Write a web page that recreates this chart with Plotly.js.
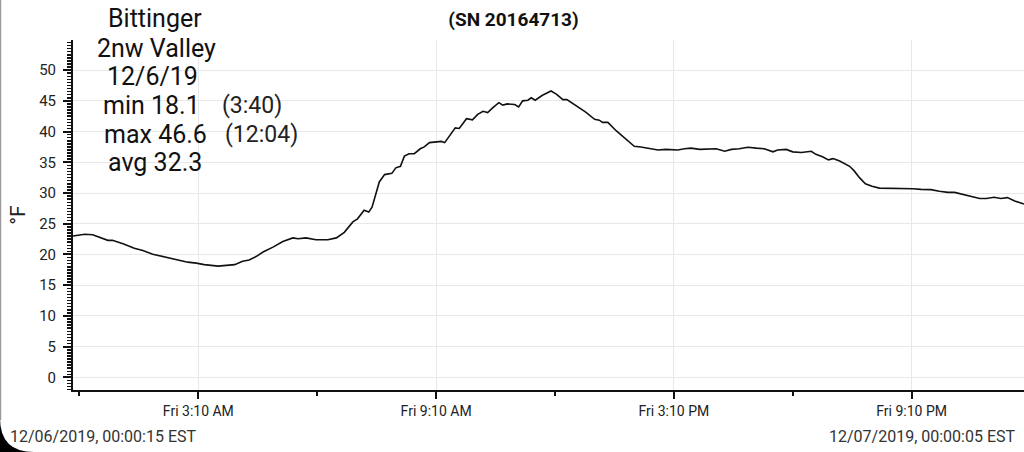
<!DOCTYPE html>
<html>
<head>
<meta charset="utf-8">
<script src="https://cdn.plot.ly/plotly-3.0.1.min.js"></script>
<style>
  html, body { margin: 0; padding: 0; background: #ffffff; }
  #chart { width: 1024px; height: 452px; }
</style>
</head>
<body>
<div id="chart"></div>
<script>
// ---- Data ----
const times = [
  '2019-12-06 00:00:15','2019-12-06 00:18','2019-12-06 00:30','2019-12-06 00:40','2019-12-06 00:53',
  '2019-12-06 01:00','2019-12-06 01:16','2019-12-06 01:33','2019-12-06 01:46','2019-12-06 02:01',
  '2019-12-06 02:14','2019-12-06 02:26','2019-12-06 02:41','2019-12-06 02:54','2019-12-06 03:07',
  '2019-12-06 03:19','2019-12-06 03:40','2019-12-06 03:52','2019-12-06 04:05','2019-12-06 04:17',
  '2019-12-06 04:27','2019-12-06 04:38','2019-12-06 04:48','2019-12-06 05:03','2019-12-06 05:18',
  '2019-12-06 05:33','2019-12-06 05:41','2019-12-06 05:53','2019-12-06 06:08','2019-12-06 06:26',
  '2019-12-06 06:39','2019-12-06 06:51','2019-12-06 07:04','2019-12-06 07:11','2019-12-06 07:21',
  '2019-12-06 07:28','2019-12-06 07:33','2019-12-06 07:44','2019-12-06 07:52','2019-12-06 08:03',
  '2019-12-06 08:09','2019-12-06 08:16','2019-12-06 08:22','2019-12-06 08:29','2019-12-06 08:37',
  '2019-12-06 08:46','2019-12-06 08:52','2019-12-06 09:00','2019-12-06 09:10','2019-12-06 09:18',
  '2019-12-06 09:23','2019-12-06 09:30','2019-12-06 09:39','2019-12-06 09:45','2019-12-06 09:56',
  '2019-12-06 10:05','2019-12-06 10:13','2019-12-06 10:21','2019-12-06 10:28','2019-12-06 10:36',
  '2019-12-06 10:45','2019-12-06 10:51','2019-12-06 10:58','2019-12-06 11:09','2019-12-06 11:15',
  '2019-12-06 11:21','2019-12-06 11:29','2019-12-06 11:34','2019-12-06 11:40','2019-12-06 11:51',
  '2019-12-06 12:04','2019-12-06 12:12','2019-12-06 12:22','2019-12-06 12:28','2019-12-06 12:37',
  '2019-12-06 12:47','2019-12-06 12:56','2019-12-06 13:10','2019-12-06 13:17','2019-12-06 13:22',
  '2019-12-06 13:30','2019-12-06 13:43','2019-12-06 13:58','2019-12-06 14:10','2019-12-06 14:20',
  '2019-12-06 14:30','2019-12-06 14:46','2019-12-06 14:58','2019-12-06 15:11','2019-12-06 15:16',
  '2019-12-06 15:26','2019-12-06 15:36','2019-12-06 15:49','2019-12-06 16:01','2019-12-06 16:14',
  '2019-12-06 16:27','2019-12-06 16:37','2019-12-06 16:49','2019-12-06 17:02','2019-12-06 17:15',
  '2019-12-06 17:27','2019-12-06 17:40','2019-12-06 17:47','2019-12-06 18:00','2019-12-06 18:10',
  '2019-12-06 18:23','2019-12-06 18:38','2019-12-06 18:45','2019-12-06 18:55','2019-12-06 19:04',
  '2019-12-06 19:11','2019-12-06 19:21','2019-12-06 19:36','2019-12-06 19:43','2019-12-06 19:51',
  '2019-12-06 20:00','2019-12-06 20:10','2019-12-06 20:21','2019-12-06 20:34','2019-12-06 20:46',
  '2019-12-06 20:59','2019-12-06 21:12','2019-12-06 21:24','2019-12-06 21:39','2019-12-06 21:52',
  '2019-12-06 22:05','2019-12-06 22:15','2019-12-06 22:27','2019-12-06 22:40','2019-12-06 22:53',
  '2019-12-06 23:03','2019-12-06 23:15','2019-12-06 23:25','2019-12-06 23:35','2019-12-06 23:46',
  '2019-12-06 23:58','2019-12-07 00:00:05'
];
const tempF = [
  23.0, 23.3, 23.2, 22.8, 22.3,
  22.3, 21.75, 21.0, 20.65, 20.05,
  19.7, 19.4, 19.0, 18.75, 18.6,
  18.35, 18.1, 18.2, 18.35, 18.9,
  19.1, 19.7, 20.4, 21.2, 22.1,
  22.7, 22.55, 22.7, 22.4, 22.4,
  22.7, 23.6, 25.3, 25.8, 27.2,
  26.9, 27.7, 31.8, 33.0, 33.2,
  34.1, 34.35, 36.0, 36.4, 36.4,
  37.2, 37.5, 38.2, 38.3, 38.4,
  38.2, 39.2, 40.6, 40.5, 42.1,
  41.9, 42.8, 43.3, 43.1, 43.9,
  44.7, 44.3, 44.5, 44.4, 44.0,
  45.0, 45.1, 45.5, 45.1, 45.9,
  46.6, 46.1, 45.2, 45.2, 44.6,
  43.8, 43.2, 42.0, 41.85, 41.5,
  41.5, 40.1, 38.7, 37.6, 37.5,
  37.3, 37.0, 37.1, 37.1, 37.0,
  37.2, 37.3, 37.1, 37.1, 37.2,
  36.8, 37.1, 37.2, 37.45, 37.3,
  37.2, 36.7, 37.0, 37.1, 36.7,
  36.6, 36.8, 36.3, 35.9, 35.4,
  35.6, 35.2, 34.35, 33.6, 32.5,
  31.5, 31.1, 30.8, 30.8, 30.7,
  30.7, 30.7, 30.6, 30.55, 30.3,
  30.1, 30.1, 29.8, 29.5, 29.1,
  29.1, 29.3, 29.1, 29.25, 28.7,
  28.3, 28.2
];
const yTickVals = [0, 5, 10, 15, 20, 25, 30, 35, 40, 45, 50];
const titleText = '(SN 20164713)';
const infoLines = ['Bittinger', '2nw Valley', '12/6/19', 'min 18.1', 'max 46.6', 'avg 32.3'];
const infoTimes = ['(3:40)', '(12:04)'];
const startLabel = '12/06/2019, 00:00:15 EST';
const endLabel = '12/07/2019, 00:00:05 EST';
const yUnit = '°F';

// ---- Layout helpers (pixel -> paper) ----
const L = 73, R = 0, T = 40, B = 62, W = 1024, H = 452;
const pw = W - L - R, ph = H - T - B;
const px = x => (x - L) / pw;
const py = y => (H - B - y) / ph;

const FONT = 'Roboto, "Noto Sans", Arial, sans-serif';

const infoPos = [[155, 19], [156, 48], [152, 76], [151, 105], [155, 134], [155, 162]];
const timePos = [[252, 105], [261, 134]];

const annotations = [];
infoLines.forEach((t, i) => annotations.push({
  text: t, xref: 'paper', yref: 'paper', x: px(infoPos[i][0]), y: py(infoPos[i][1]),
  xanchor: 'center', yanchor: 'middle', showarrow: false,
  font: {family: FONT, size: 25, color: '#111111'}
}));
infoTimes.forEach((t, i) => annotations.push({
  text: t, xref: 'paper', yref: 'paper', x: px(timePos[i][0]), y: py(timePos[i][1]),
  xanchor: 'center', yanchor: 'middle', showarrow: false,
  font: {family: FONT, size: 23, color: '#222222'}
}));
annotations.push({
  text: startLabel, xref: 'paper', yref: 'paper', x: px(8), y: py(436),
  xanchor: 'left', yanchor: 'middle', showarrow: false,
  font: {family: FONT, size: 16, color: '#333333'}
});
annotations.push({
  text: endLabel, xref: 'paper', yref: 'paper', x: px(1018), y: py(436),
  xanchor: 'right', yanchor: 'middle', showarrow: false,
  font: {family: FONT, size: 16, color: '#333333'}
});

// screen-corner decoration (phone screenshot rounded corner and edge)
const r = 34;
const cornerPath = 'M ' + px(0) + ',' + py(H - r) + ' L ' + px(0) + ',' + py(H) + ' L ' + px(r) + ',' + py(H) +
  ' Q ' + px(0) + ',' + py(H) + ' ' + px(0) + ',' + py(H - r) + ' Z';
const shapes = [
  {type: 'path', xref: 'paper', yref: 'paper', path: cornerPath, fillcolor: '#000000', line: {width: 0}, layer: 'above'},
  {type: 'line', xref: 'paper', yref: 'paper', x0: px(0.5), x1: px(0.5), y0: py(0), y1: py(H - r + 2),
   line: {color: '#9a9a9a', width: 1.5}, layer: 'above'}
];

const trace = {
  x: times, y: tempF, type: 'scatter', mode: 'lines',
  line: {color: '#111111', width: 1.6},
  hoverinfo: 'skip'
};

const layout = {
  width: W, height: H,
  margin: {l: L, r: R, t: T, b: B, pad: 0},
  paper_bgcolor: '#ffffff', plot_bgcolor: '#ffffff',
  showlegend: false,
  title: {
    text: '<b>' + titleText + '</b>', x: 513.5 / W, xref: 'container', xanchor: 'center',
    y: 1 - 19 / H, yref: 'container', yanchor: 'middle',
    font: {family: FONT, size: 19, color: '#111111'}
  },
  xaxis: {
    type: 'date',
    range: ['2019-12-06 00:00:15', '2019-12-07 00:00:05'],
    tickmode: 'linear', tick0: '2019-12-06 03:10', dtick: 6 * 3600 * 1000,
    tickformat: '%a %-I:%M %p',
    ticks: 'outside', ticklen: 7, tickwidth: 2, tickcolor: '#111111',
    showline: true, linecolor: '#111111', linewidth: 2,
    showgrid: true, gridcolor: '#e8e8e8', gridwidth: 1,
    zeroline: false,
    tickfont: {family: FONT, size: 14, color: '#222222'},
    minor: {tick0: '2019-12-06 00:10', dtick: 3 * 3600 * 1000, ticks: 'outside', ticklen: 4, tickwidth: 2, tickcolor: '#111111', showgrid: false},
    fixedrange: true
  },
  yaxis: {
    range: [-2.05, 54.9],
    tickmode: 'array', tickvals: yTickVals,
    ticks: 'outside', ticklen: 8, tickwidth: 2, tickcolor: '#111111',
    showline: true, linecolor: '#111111', linewidth: 2,
    showgrid: true, gridcolor: '#e8e8e8', gridwidth: 1,
    zeroline: false,
    tickfont: {family: FONT, size: 15, color: '#222222'},
    ticklabelstandoff: 4,
    minor: {dtick: 0.5, ticks: 'outside', ticklen: 4, tickwidth: 1.5, tickcolor: '#111111', showgrid: false},
    title: {text: yUnit, font: {family: FONT, size: 21, color: '#222222'}, standoff: 8},
    fixedrange: true
  },
  annotations: annotations,
  shapes: shapes
};

Plotly.newPlot('chart', [trace], layout, {staticPlot: true, displayModeBar: false});
</script>
</body>
</html>
